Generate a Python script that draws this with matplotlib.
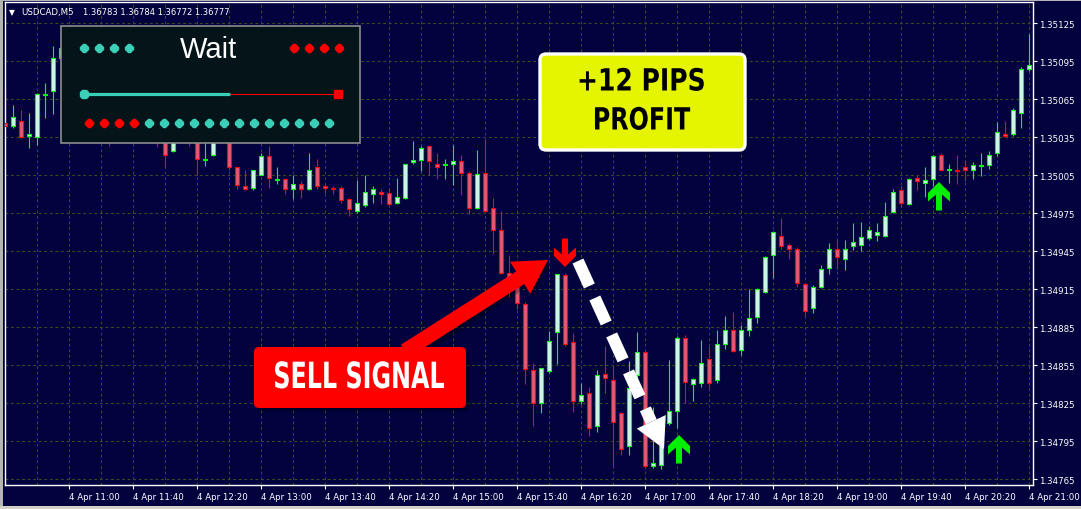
import numpy as np
import pandas as pd
import matplotlib
matplotlib.use("Agg")
import matplotlib.pyplot as plt
from matplotlib.patches import Rectangle, FancyBboxPatch, FancyArrow, Polygon
from matplotlib.patheffects import AbstractPathEffect
from matplotlib.transforms import Affine2D

# USDCAD M5 bars, 4 Apr, 10:20 .. 21:00
opens = [1.35046, 1.35044, 1.35048, 1.35036, 1.35035, 1.35068, 1.35071, 1.35097, 1.35105, 1.35085,
         1.35092, 1.35066, 1.35055, 1.35064, 1.35040, 1.35052, 1.35044, 1.35056, 1.35046, 1.35052,
         1.35038, 1.35024, 1.35040, 1.35046, 1.35032, 1.35017, 1.35021, 1.35035, 1.35040, 1.35011,
         1.34996, 1.34995, 1.35005, 1.35020, 1.35001, 1.35002, 1.34994, 1.34998, 1.34994, 1.35011,
         1.34996, 1.34995, 1.34995, 1.34986, 1.34977, 1.34981, 1.34990, 1.34992, 1.34991, 1.34983,
         1.34987, 1.35015, 1.35017, 1.35028, 1.35014, 1.35013, 1.35014, 1.35016, 1.35007, 1.34979,
         1.35007, 1.34979, 1.34962, 1.34928, 1.34917, 1.34903, 1.34851, 1.34825, 1.34850, 1.34881,
         1.34926, 1.34873, 1.34827, 1.34833, 1.34807, 1.34848, 1.34843, 1.34817, 1.34791, 1.34847,
         1.34865, 1.34775, 1.34776, 1.34809, 1.34819, 1.34876, 1.34840, 1.34841, 1.34860, 1.34843,
         1.34872, 1.34883, 1.34867, 1.34883, 1.34893, 1.34913, 1.34942, 1.34957, 1.34950, 1.34947,
         1.34919, 1.34900, 1.34917, 1.34932, 1.34947, 1.34939, 1.34949, 1.34950, 1.34955, 1.34958,
         1.34957, 1.34976, 1.34993, 1.34982, 1.35003, 1.34999, 1.35002, 1.35021, 1.35009, 1.35009,
         1.35011, 1.35009, 1.35012, 1.35013, 1.35022, 1.35037, 1.35037, 1.35054, 1.35089]
highs = [1.35075, 1.35060, 1.35056, 1.35054, 1.35070, 1.35078, 1.35107, 1.35111, 1.35112, 1.35098,
         1.35096, 1.35075, 1.35070, 1.35068, 1.35058, 1.35060, 1.35062, 1.35064, 1.35058, 1.35056,
         1.35042, 1.35045, 1.35050, 1.35048, 1.35036, 1.35034, 1.35040, 1.35045, 1.35044, 1.35011,
         1.35009, 1.35009, 1.35022, 1.35028, 1.35011, 1.35003, 1.35005, 1.35000, 1.35022, 1.35018,
         1.34998, 1.34996, 1.34996, 1.34987, 1.35001, 1.35005, 1.34996, 1.34994, 1.34995, 1.35003,
         1.35014, 1.35032, 1.35028, 1.35029, 1.35022, 1.35018, 1.35029, 1.35021, 1.35008, 1.35025,
         1.35033, 1.34987, 1.34977, 1.34942, 1.34928, 1.34905, 1.34857, 1.34853, 1.34882, 1.34927,
         1.34928, 1.34880, 1.34841, 1.34838, 1.34851, 1.34870, 1.34855, 1.34818, 1.34858, 1.34881,
         1.34866, 1.34822, 1.34809, 1.34859, 1.34878, 1.34879, 1.34845, 1.34875, 1.34870, 1.34883,
         1.34894, 1.34897, 1.34887, 1.34915, 1.34916, 1.34941, 1.34961, 1.34971, 1.34951, 1.34948,
         1.34920, 1.34918, 1.34934, 1.34951, 1.34954, 1.34954, 1.34967, 1.34968, 1.34965, 1.34967,
         1.34984, 1.34994, 1.34996, 1.35003, 1.35005, 1.35011, 1.35021, 1.35022, 1.35014, 1.35021,
         1.35017, 1.35015, 1.35022, 1.35024, 1.35047, 1.35048, 1.35058, 1.35090, 1.35116]
lows = [1.35041, 1.35042, 1.35034, 1.35026, 1.35029, 1.35050, 1.35053, 1.35089, 1.35080, 1.35070,
        1.35060, 1.35048, 1.35050, 1.35028, 1.35036, 1.35038, 1.35040, 1.35040, 1.35042, 1.35027,
        1.35011, 1.35023, 1.35034, 1.35028, 1.35005, 1.35012, 1.35020, 1.35032, 1.35009, 1.34994,
        1.34993, 1.34993, 1.35005, 1.34995, 1.34998, 1.34990, 1.34986, 1.34987, 1.34993, 1.34994,
        1.34991, 1.34990, 1.34983, 1.34973, 1.34975, 1.34980, 1.34983, 1.34982, 1.34981, 1.34982,
        1.34986, 1.35014, 1.35008, 1.35005, 1.35002, 1.35002, 1.34997, 1.34989, 1.34974, 1.34978,
        1.34976, 1.34943, 1.34927, 1.34909, 1.34899, 1.34840, 1.34807, 1.34817, 1.34849, 1.34856,
        1.34870, 1.34818, 1.34824, 1.34799, 1.34802, 1.34833, 1.34775, 1.34784, 1.34784, 1.34844,
        1.34774, 1.34774, 1.34773, 1.34808, 1.34805, 1.34825, 1.34827, 1.34838, 1.34837, 1.34841,
        1.34868, 1.34865, 1.34863, 1.34878, 1.34888, 1.34912, 1.34924, 1.34947, 1.34939, 1.34917,
        1.34894, 1.34896, 1.34916, 1.34927, 1.34931, 1.34930, 1.34946, 1.34945, 1.34954, 1.34953,
        1.34956, 1.34975, 1.34980, 1.34981, 1.34993, 1.34988, 1.34996, 1.35008, 1.34999, 1.34998,
        1.35000, 1.35002, 1.35004, 1.35010, 1.35020, 1.35035, 1.35036, 1.35042, 1.35087]
closes = [1.35044, 1.35051, 1.35035, 1.35037, 1.35069, 1.35069, 1.35097, 1.35105, 1.35085, 1.35092,
          1.35066, 1.35055, 1.35064, 1.35040, 1.35052, 1.35044, 1.35056, 1.35046, 1.35052, 1.35038,
          1.35021, 1.35040, 1.35046, 1.35032, 1.35018, 1.35018, 1.35035, 1.35040, 1.35011, 1.34997,
          1.34994, 1.35009, 1.35020, 1.35003, 1.35002, 1.34994, 1.34998, 1.34994, 1.35009, 1.34996,
          1.34995, 1.34994, 1.34985, 1.34978, 1.34983, 1.34992, 1.34994, 1.34990, 1.34982, 1.34988,
          1.35014, 1.35017, 1.35026, 1.35016, 1.35011, 1.35014, 1.35016, 1.35007, 1.34979, 1.35006,
          1.34977, 1.34962, 1.34928, 1.34924, 1.34904, 1.34852, 1.34825, 1.34853, 1.34874, 1.34927,
          1.34872, 1.34827, 1.34831, 1.34805, 1.34847, 1.34845, 1.34810, 1.34789, 1.34837, 1.34865,
          1.34775, 1.34778, 1.34809, 1.34819, 1.34876, 1.34842, 1.34844, 1.34857, 1.34841, 1.34872,
          1.34883, 1.34866, 1.34883, 1.34892, 1.34915, 1.34940, 1.34960, 1.34949, 1.34947, 1.34920,
          1.34898, 1.34917, 1.34931, 1.34947, 1.34940, 1.34947, 1.34952, 1.34956, 1.34962, 1.34960,
          1.34973, 1.34992, 1.34983, 1.35002, 1.35000, 1.35001, 1.35020, 1.35009, 1.35010, 1.35008,
          1.35009, 1.35013, 1.35013, 1.35021, 1.35039, 1.35036, 1.35056, 1.35089, 1.35092]

start_time = "2019-04-04 10:20"
price_ticks = [1.34765, 1.34795, 1.34825, 1.34855, 1.34885, 1.34915, 1.34945,
               1.34975, 1.35005, 1.35035, 1.35065, 1.35095, 1.35125]
symbol = "USDCAD,M5"
last_bar = "1.36783 1.36784 1.36772 1.36777"
profit_text = ["+12 PIPS", "PROFIT"]
signal_text = "SELL SIGNAL"
panel_text = "Wait"

NAVY = "#02023f"
GRID = "#3c4a1e"
BULL_EDGE, BULL_FACE = "#00ff00", "#d2f5ea"
BEAR_EDGE, BEAR_FACE = "#ff0000", "#e05a7a"
TEAL = "#3ccfb8"


class Squeeze(AbstractPathEffect):
    """Narrow the glyphs horizontally around the text centre (poster-style lettering)."""

    def __init__(self, sx):
        super().__init__()
        self.sx = sx

    def draw_path(self, renderer, gc, tpath, affine, rgbFace=None):
        bb = tpath.get_extents(affine)
        cx = (bb.x0 + bb.x1) / 2
        tr = affine + Affine2D().translate(-cx, 0).scale(self.sx, 1).translate(cx, 0)
        renderer.draw_path(gc, tpath, tr, rgbFace)


W, H = 1081, 510
fig = plt.figure(figsize=(W / 100, H / 100), dpi=100)
fig.patch.set_facecolor(NAVY)

ax = fig.add_axes([4.5 / W, 24 / H, 1028 / W, 483 / H])
ax.set_facecolor(NAVY)

o = np.array(opens)
h = np.array(highs)
l = np.array(lows)
c = np.array(closes)
x = np.arange(len(c))
bull = c > o

ax.vlines(x, l, h, colors=np.where(bull, BULL_EDGE, BEAR_EDGE), lw=0.8, zorder=2)
body = np.maximum(np.abs(c - o), 0.000008)
ax.bar(x, body, bottom=np.minimum(o, c), width=0.62,
       color=np.where(bull, BULL_FACE, BEAR_FACE),
       edgecolor=np.where(bull, BULL_EDGE, BEAR_EDGE), linewidth=0.8, zorder=3)

ax.set_xlim(-0.0625, 128.44)
ax.set_ylim(1.347603, 1.351416)

times = pd.date_range(start_time, periods=len(c), freq="5min")
major = x[(x % 8 == 0) & (x > 0)]
ax.set_xticks(major)
ax.set_xticklabels([times[i].strftime("%-d %b %H:%M") for i in major])
ax.set_xticks(x[x % 4 == 0], minor=True)
for lbl in ax.get_xticklabels():
    lbl.set_ha("left")

ax.yaxis.tick_right()
ax.set_yticks(price_ticks)
ax.set_yticklabels([f"{p:.5f}" for p in price_ticks])

ax.tick_params(which="major", colors="white", labelcolor="white", labelsize=6.2,
               length=3, width=0.8, pad=2)
ax.tick_params(which="minor", length=0)
ax.grid(which="both", axis="x", color=GRID, lw=0.8, linestyle=(0, (2.5, 2.5)))
ax.grid(which="major", axis="y", color=GRID, lw=0.8, linestyle=(0, (2.5, 2.5)))
ax.set_axisbelow(True)
for s in ax.spines.values():
    s.set_color("white")
    s.set_linewidth(1.0)

# overlay in pixel coordinates for the annotations
ov = fig.add_axes([0, 0, 1, 1], zorder=10)
ov.set_xlim(0, W)
ov.set_ylim(H, 0)
ov.axis("off")
ov.patch.set_alpha(0)

ov.add_patch(Rectangle((0, 0), 3, H, color="#b4b4b4", lw=0))
ov.add_patch(Rectangle((0, 0), W, 1.5, color="#b4b4b4", lw=0))
ov.add_patch(Rectangle((0, 507), W, 3, color="#d4d0c8", lw=0))

ov.text(9, 12.5, "\u25bc", color="white", fontsize=5.5, va="center")
ov.text(21, 12.5, symbol, color="white", fontsize=6.2, va="center")
ov.text(83, 12.5, last_bar, color="white", fontsize=6.0, va="center")

# indicator panel
ov.add_patch(Rectangle((60.5, 26.5), 299, 117.5, facecolor="#041418",
                       edgecolor="#8c8c8c", lw=1.2))
ov.text(209, 50, panel_text, color="white", fontsize=21, ha="center", va="center",
        family=["Liberation Sans", "DejaVu Sans"])
ov.plot([84 + 15 * k for k in range(4)], [49] * 4, ls="none", marker="8", ms=5.5, color=TEAL)
ov.plot([294 + 15 * k for k in range(4)], [49] * 4, ls="none", marker="8", ms=5.5, color="#ff0000")
ov.plot([84, 230], [95, 95], color=TEAL, lw=2.3, solid_capstyle="butt")
ov.plot([230, 338], [95, 95], color="#ff0000", lw=0.8)
ov.plot([84], [95], marker="8", ms=6, color=TEAL)
ov.plot([338], [95], marker="s", ms=6, color="#ff0000")
row_colors = ["#ff0000"] * 4 + [TEAL] * 13
for k, col in enumerate(row_colors):
    ov.plot([89 + 15 * k], [124], marker="8", ms=5.5, color=col)

# profit box
ov.add_patch(FancyBboxPatch((540, 55), 205, 96, boxstyle="round,pad=0,rounding_size=6",
                            facecolor="#e5f500", edgecolor="white", lw=2.4))
ov.text(641, 83, profit_text[0], fontsize=22, fontweight="bold", ha="center", va="center",
        family="DejaVu Sans", color="black", path_effects=[Squeeze(0.82)])
ov.text(641, 122, profit_text[1], fontsize=22, fontweight="bold", ha="center", va="center",
        family="DejaVu Sans", color="black", path_effects=[Squeeze(0.78)])

# red arrow to the signal
ov.add_patch(FancyArrow(408, 354, 140, -92, width=15, head_width=38, head_length=33,
                        length_includes_head=True, color="black", alpha=0.3, lw=0,
                        transform=ov.transData + Affine2D().translate(2, -2)))
ov.add_patch(FancyArrow(405, 352, 143, -91, width=15, head_width=38, head_length=33,
                        length_includes_head=True, color="#ff0000", lw=0))
ov.add_patch(FancyBboxPatch((257, 351), 212, 61, boxstyle="round,pad=0,rounding_size=5",
                            facecolor="black", alpha=0.35, lw=0))
ov.add_patch(FancyBboxPatch((254, 348), 212, 61, boxstyle="round,pad=0,rounding_size=5",
                            facecolor="#fe0000", lw=0))
ov.text(359, 379, signal_text, fontsize=26, fontweight="bold", ha="center", va="center",
        family="DejaVu Sans", color="white", path_effects=[Squeeze(0.66)])

# white dashed move arrow
tip = np.array([664.0, 450.0])
u = np.array([88.0, 188.0])
u = u / np.hypot(*u)
p = np.array([-u[1], u[0]])
base = tip - 30 * u
ov.plot([578, base[0]], [262, base[1]], color="white", lw=8.6, dashes=(2.3, 1.1),
        dash_capstyle="butt")
ov.add_patch(Polygon([tip, base + 16 * p, base - 16 * p], closed=True, color="white", lw=0))


def signal_arrow(xt, yt, color, up=True):
    shape = [(0, 0), (11, 11), (11, 19.5), (3, 12.5), (3, 28.5), (-3, 28.5),
             (-3, 12.5), (-11, 19.5), (-11, 11)]
    s = 1 if up else -1
    ov.add_patch(Polygon([(xt + dx, yt + s * dy) for dx, dy in shape], closed=True,
                         color=color, lw=0))


signal_arrow(565, 268, "#ff0000", up=False)
signal_arrow(679, 436, "#00f000")
signal_arrow(939, 183, "#00f000")

fig.savefig("out.png", dpi=100, facecolor=NAVY)
